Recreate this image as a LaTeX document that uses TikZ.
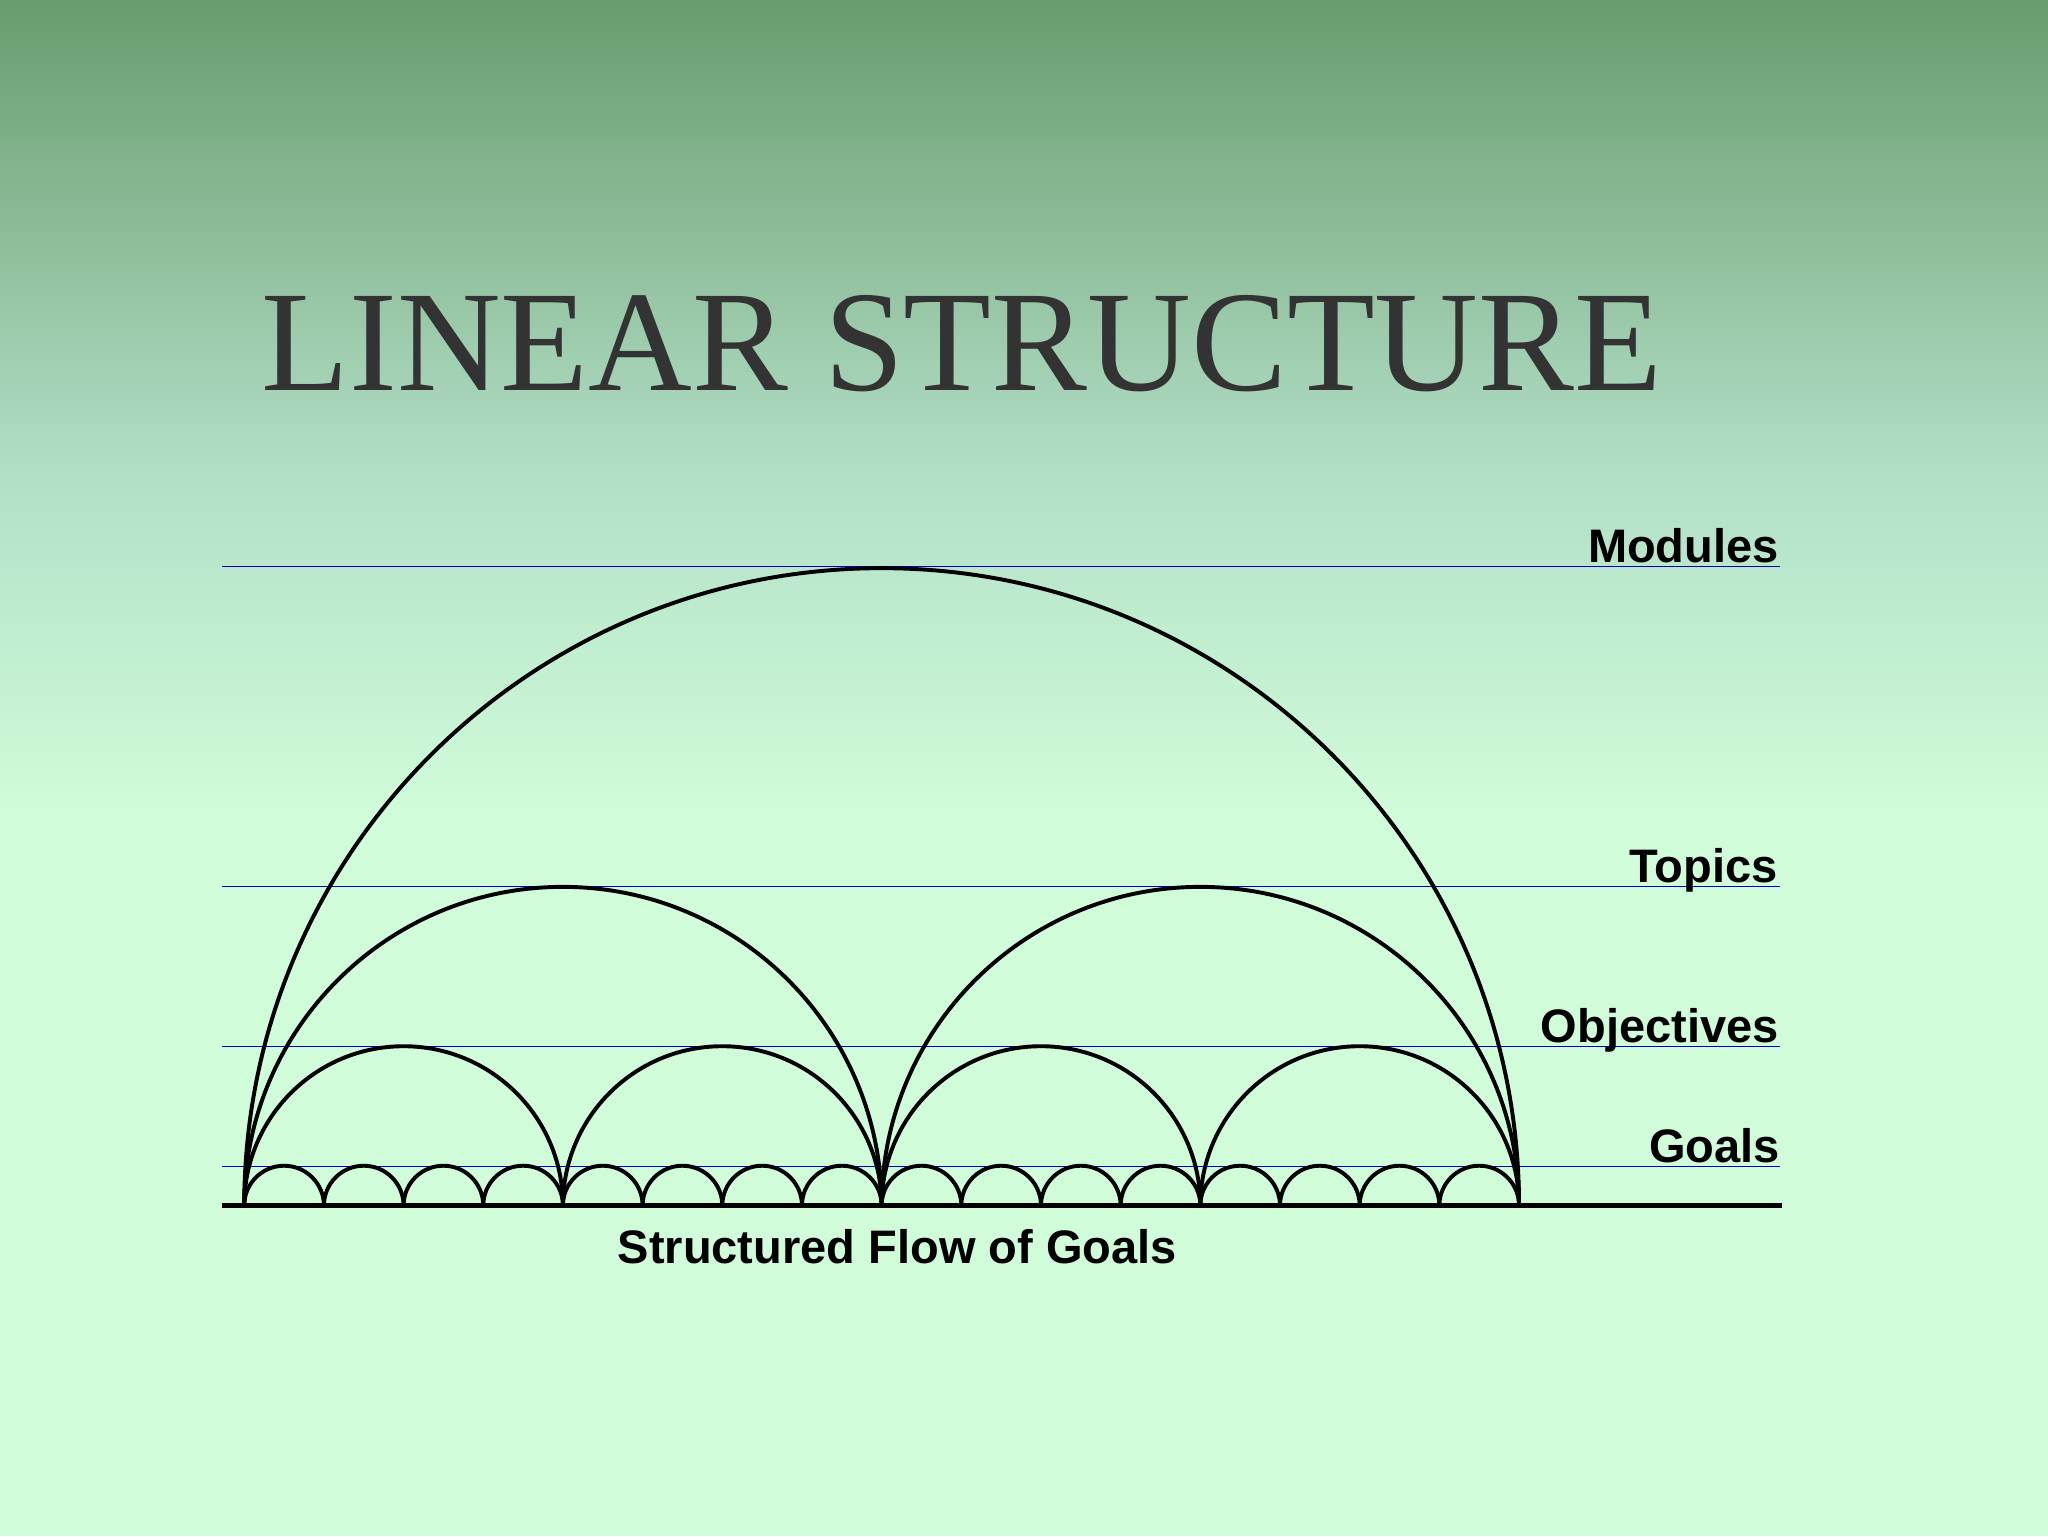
\documentclass[tikz,border=0pt]{standalone}
\usepackage{fontspec}
\setmainfont{Liberation Serif}
\newfontfamily\labfont{Liberation Sans}
\definecolor{bgtop}{HTML}{689C6E}
\definecolor{bgmid}{HTML}{B2DEC6}
\definecolor{bgbot}{HTML}{D0FCDA}
\definecolor{titlec}{HTML}{333333}
\begin{document}
\begin{tikzpicture}[x=1pt,y=-1pt,
  lvl/.style={blue!80!black,line width=0.9pt},
  arcline/.style={black,line width=3pt},
  lab/.style={font=\labfont\bfseries\fontsize{36}{40}\selectfont,anchor=base east,inner sep=0pt}]
\useasboundingbox (0,0) rectangle (1568,1176);
\shade[top color=bgtop,bottom color=bgmid] (0,0) rectangle (1568,360);
\shade[top color=bgmid,bottom color=bgbot] (0,360) rectangle (1568,620);
\fill[bgbot] (0,620) rectangle (1568,1176);
\node[anchor=base west,inner sep=0pt,text=titlec,font=\fontsize{110}{112}\selectfont] (title) at (200,299) {LINEAR STRUCTURE};
% level lines
\foreach \y/\n in {434/m,679/t,801/o,893/g}{
  \coordinate (l\n) at (170,\y); \coordinate (r\n) at (1363,\y);
  \draw[lvl] (l\n) -- (r\n);}
\node[lab] (modules) at (1362,431) {Modules};
\node[lab] (topics) at (1361,676) {Topics};
\node[lab] (objectives) at (1362,798) {Objectives};
\node[lab] (goals) at (1363,890) {Goals};
% arcs
\draw[arcline] (187,923) arc[start angle=180,end angle=360,radius=488];
\foreach \c in {431,919}{\draw[arcline] (\c-244,923) arc[start angle=180,end angle=360,radius=244];}
\foreach \c in {309,553,797,1041}{\draw[arcline] (\c-122,923) arc[start angle=180,end angle=360,radius=122];}
\foreach \i in {0,...,15}{\draw[arcline] (187+61*\i,923) arc[start angle=180,end angle=360,radius=30.5];}
\coordinate (bl) at (170,923); \coordinate (br) at (1364,923);
\draw[black,line width=4pt] (bl) -- (br);
\node[lab,anchor=base] (caption) at (687,967) {Structured Flow of Goals};
\end{tikzpicture}
\end{document}
